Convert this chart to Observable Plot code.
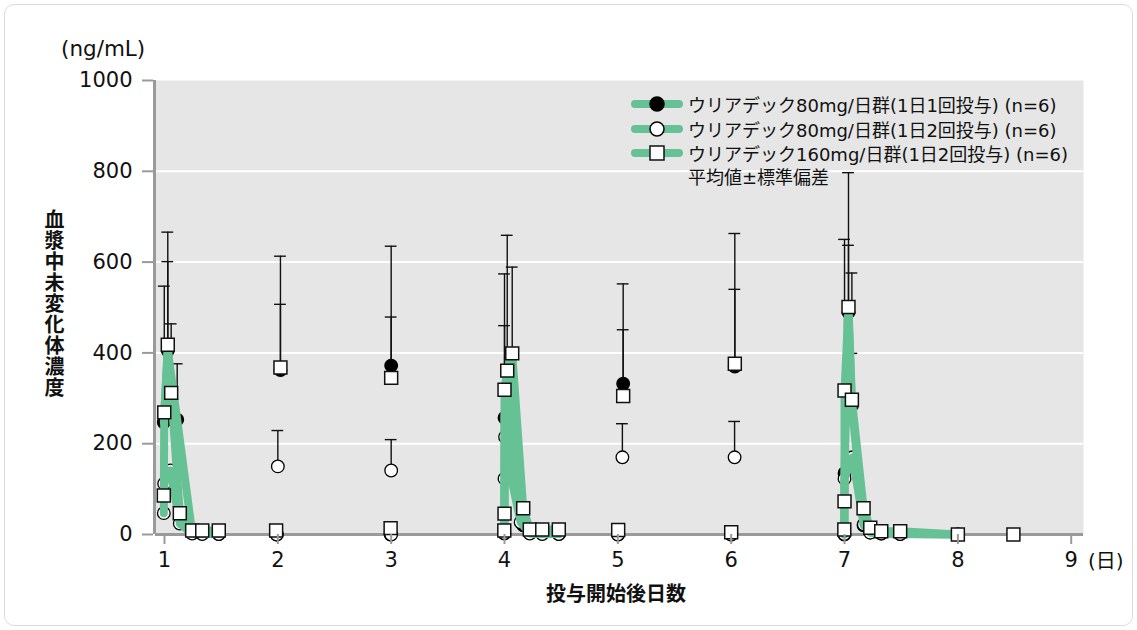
<!DOCTYPE html>
<html>
<head>
<meta charset="utf-8">
<script src="https://cdn.jsdelivr.net/npm/d3@7"></script>
<script src="https://cdn.jsdelivr.net/npm/@observablehq/plot@0.6"></script>
<style>
  html, body { margin: 0; padding: 0; background: #fff; }
  #wrap { position: relative; width: 1137px; height: 630px; overflow: hidden;
          font-family: "DejaVu Sans", "Noto Sans CJK JP", sans-serif; color: #111; }
  #card { position: absolute; left: 4px; top: 4px; width: 1127px; height: 620px;
          border: 1px solid #dcdcdc; border-radius: 10px; background: #fff; }
  #chart { position: absolute; left: 0; top: 0; }
  .ov { position: absolute; white-space: nowrap; }
  #unit { left: 61px; top: 36px; font-size: 21.5px; }
  #ytitle { left: 40px; top: 209px; font-size: 20px; font-weight: bold; writing-mode: vertical-rl;
            font-family: "Noto Sans CJK JP", sans-serif; letter-spacing: 1px; }
  #xtitle { left: 0; width: 1232px; text-align: center; top: 578px; font-size: 20px; font-weight: bold;
            font-family: "Noto Sans CJK JP", sans-serif; }
  #dayunit { left: 1088px; top: 545px; font-size: 20px; }
  #legend { left: 630px; top: 92px; font-size: 18px; }
  .lrow { display: flex; align-items: center; height: 24.5px; }
  .lrow svg { width: 54px; height: 20px; margin-right: 4px; flex: none; }
  .lnote { padding-left: 58px; height: 24px; line-height: 24px; }
</style>
</head>
<body>
<div id="wrap">
  <div id="card"></div>
  <div id="chart"></div>
  <div class="ov" id="unit">(ng/mL)</div>
  <div class="ov" id="ytitle">血漿中未変化体濃度</div>
  <div class="ov" id="xtitle">投与開始後日数</div>
  <div class="ov" id="dayunit">(日)</div>
  <div class="ov" id="legend"></div>
</div>
<script>
// ---------- data (day, mean ng/mL, mean+SD or null, profile segment for line; 0 = not connected) ----------
const seriesNames = [
  "ウリアデック80mg/日群(1日1回投与) (n=6)",
  "ウリアデック80mg/日群(1日2回投与) (n=6)",
  "ウリアデック160mg/日群(1日2回投与) (n=6)"
];
const sdNote = "平均値±標準偏差";
const xTicks = [1, 2, 3, 4, 5, 6, 7, 8, 9];
const yTicks = [0, 200, 400, 600, 800, 1000];

const g80once = [
  [0.994, 247, null, 1], [1.029, 405, 601, 1], [1.112, 253, 376, 1], [1.244, 4, null, 1],
  [1.333, 2, null, 1], [1.479, 1, null, 1],
  [1.990, 0, null, 0], [2.023, 362, 507, 0],
  [2.995, 0, null, 0], [3.000, 372, 635, 0],
  [3.998, 2, null, 4], [4.000, 257, 460, 4], [4.024, 355, null, 4], [4.053, 240, null, 4],
  [4.165, 20, null, 4], [4.223, 3, null, 4], [4.333, 2, null, 4], [4.479, 1, null, 4],
  [5.003, 0, null, 0], [5.047, 332, 552, 0],
  [6.000, 0, null, 0], [6.032, 370, 540, 0],
  [6.998, 0, null, 7], [7.000, 135, null, 7], [7.035, 490, 637, 7], [7.065, 284, 576, 7],
  [7.168, 20, null, 7], [7.227, 5, null, 7], [7.324, 2, null, 7], [7.491, 1, null, 7], [8.000, 0, null, 7]
];
const g80twice = [
  [0.994, 47, null, 1], [0.997, 112, null, 1], [1.053, 141, null, 1], [1.135, 24, null, 1],
  [1.244, 2, null, 1], [1.333, 1, null, 1], [1.479, 1, null, 1],
  [1.990, 0, null, 0], [2.000, 150, 229, 0],
  [3.000, 0, null, 0], [3.000, 141, 209, 0],
  [3.998, 3, null, 4], [4.000, 123, null, 4], [4.005, 215, null, 4], [4.038, 150, null, 4],
  [4.142, 27, 53, 4], [4.223, 2, null, 4], [4.333, 1, null, 4], [4.479, 1, null, 4],
  [5.000, 0, null, 0], [5.040, 170, 244, 0],
  [6.000, 0, null, 0], [6.030, 170, 249, 0],
  [6.998, 1, null, 7], [7.000, 123, null, 7], [7.070, 170, null, 7], [7.170, 22, null, 7],
  [7.227, 4, null, 7], [7.324, 2, null, 7], [7.491, 1, null, 7], [8.000, 0, null, 7]
];
const g160twice = [
  [0.994, 86, null, 1], [0.998, 269, 547, 1], [1.029, 418, 666, 1], [1.059, 312, 464, 1],
  [1.135, 47, null, 1], [1.244, 9, null, 1], [1.333, 9, null, 1], [1.479, 9, null, 1],
  [1.985, 9, null, 0], [2.023, 368, 613, 0],
  [2.995, 14, null, 0], [3.000, 345, 479, 0],
  [3.998, 9, null, 4], [4.000, 46, null, 4], [4.000, 319, 574, 4], [4.024, 361, 659, 4],
  [4.068, 399, 589, 4], [4.165, 58, 72, 4], [4.223, 11, null, 4], [4.333, 11, null, 4], [4.479, 11, null, 4],
  [5.003, 10, null, 0], [5.047, 305, 451, 0],
  [6.000, 5, null, 0], [6.032, 376, 663, 0],
  [6.998, 11, null, 7], [7.000, 73, null, 7], [7.000, 317, 650, 7], [7.035, 501, 797, 7],
  [7.065, 297, 399, 7], [7.168, 58, null, 7], [7.227, 15, null, 7], [7.324, 7, null, 7],
  [7.491, 7, null, 7], [8.000, 0, null, 7],
  [8.490, 0, null, 0]
];

// ---------- build ----------
const GREEN = "#66c195";
const toRows = (arr, s) => arr.map(([day, mean, upper, seg]) => ({day, mean, upper, seg, s}));
const F = toRows(g80once, 0), O = toRows(g80twice, 1), S = toRows(g160twice, 2);
const all = [...F, ...O, ...S];
const errs = all.filter(d => d.upper != null);
const lines = all.filter(d => d.seg > 0);
const xDomain = [0.9206, 9.1085];
const cap = 0.052;

const chart = Plot.plot({
  width: 1137, height: 630,
  marginLeft: 155, marginRight: 54, marginTop: 80, marginBottom: 96,
  x: {domain: xDomain},
  y: {domain: [0, 1000]},
  style: {fontFamily: '"DejaVu Sans", "Noto Sans CJK JP", sans-serif', fontSize: "20px", background: "transparent", overflow: "visible", color: "#111"},
  marks: [
    Plot.frame({fill: "#e6e6e6", stroke: null}),
    Plot.gridY(yTicks.filter(v => v > 0 && v < 1000), {stroke: "#fff", strokeOpacity: 1, strokeWidth: 2}),
    Plot.ruleX(errs, {x: "day", y1: "mean", y2: "upper", stroke: "#111", strokeWidth: 1.4}),
    Plot.ruleY(errs, {y: "upper", x1: d => d.day - cap, x2: d => d.day + cap, stroke: "#111", strokeWidth: 1.4}),
    Plot.ruleY([0], {stroke: "#9a9a9a", strokeWidth: 3}),
    Plot.ruleX([xDomain[0]], {stroke: "#9a9a9a", strokeWidth: 3, dx: -1}),
    Plot.dot(F, {x: "day", y: "mean", r: 6.3, fill: "#000", stroke: "#000", strokeWidth: 1.3}),
    Plot.dot(O, {x: "day", y: "mean", r: 6.3, fill: "#fff", stroke: "#000", strokeWidth: 1.3}),
    Plot.line(lines, {x: "day", y: "mean", z: d => d.s + "-" + d.seg, stroke: GREEN, strokeWidth: 8, strokeLinejoin: "round", strokeLinecap: "round"}),
    Plot.dot(S, {x: "day", y: "mean", r: 7.3, symbol: "square", fill: "#fff", stroke: "#111", strokeWidth: 1.5}),
    Plot.axisY({ticks: yTicks, tickSize: 11, tickPadding: 10, dx: -2, stroke: "#9a9a9a", strokeWidth: 2, fill: "#111", fontSize: 21, label: null, tickFormat: d => String(d)}),
    Plot.axisX({ticks: xTicks, tickSize: 10, tickPadding: 8, stroke: "#9a9a9a", strokeWidth: 2, fill: "#111", fontSize: 21, label: null, tickFormat: d => String(d)})
  ]
});
document.getElementById("chart").appendChild(chart);

// ---------- legend ----------
const legend = d3.select("#legend");
const markers = ["filled", "open", "square"];
seriesNames.forEach((name, i) => {
  const row = legend.append("div").attr("class", "lrow");
  const svg = row.append("svg").attr("viewBox", "0 0 54 20");
  svg.append("line").attr("x1", 5).attr("x2", 49).attr("y1", 10).attr("y2", 10)
     .attr("stroke", GREEN).attr("stroke-width", 8).attr("stroke-linecap", "round");
  if (markers[i] === "square") {
    svg.append("rect").attr("x", 20).attr("y", 3).attr("width", 14).attr("height", 14)
       .attr("fill", "#fff").attr("stroke", "#111").attr("stroke-width", 1.5);
  } else {
    svg.append("circle").attr("cx", 27).attr("cy", 10).attr("r", 7)
       .attr("fill", markers[i] === "filled" ? "#000" : "#fff").attr("stroke", "#000").attr("stroke-width", 1.5);
  }
  row.append("span").text(name);
});
legend.append("div").attr("class", "lnote").text(sdNote);
</script>
</body>
</html>
